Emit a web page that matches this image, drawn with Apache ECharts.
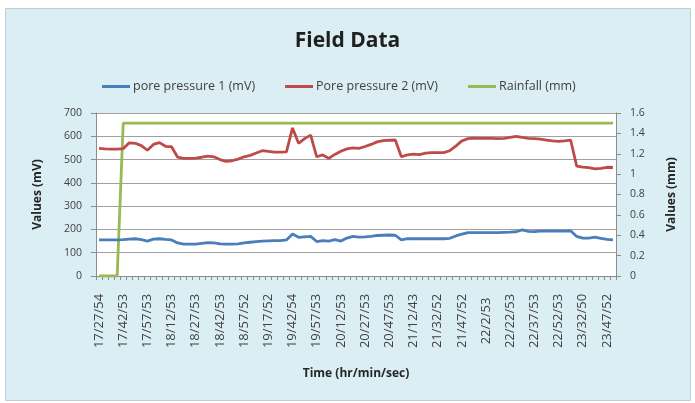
<!DOCTYPE html>
<html>
<head>
<meta charset="utf-8">
<script src="https://cdn.jsdelivr.net/npm/echarts@6/dist/echarts.min.js"></script>
<style>
html,body{margin:0;padding:0;background:#ffffff;}
#chart{width:695px;height:403px;}
</style>
</head>
<body>
<div id="chart"></div>
<script>
const categories = [
 "17/27/54","17/31/39","17/35/24","17/39/8","17/42/53","17/46/38","17/50/23","17/54/8",
 "17/57/53","18/1/38","18/5/23","18/9/8","18/12/53","18/16/38","18/20/23","18/24/8",
 "18/27/53","18/31/38","18/35/23","18/39/8","18/42/53","18/46/38","18/50/23","18/54/8",
 "18/57/52","19/2/52","19/7/52","19/12/52","19/17/52","19/23/52","19/30/53","19/36/53",
 "19/42/54","19/46/39","19/50/23","19/54/8","19/57/53","20/1/38","20/5/23","20/9/8",
 "20/12/53","20/16/38","20/20/23","20/24/8","20/27/53","20/32/53","20/37/53","20/42/53",
 "20/47/53","20/53/53","20/59/53","21/6/43","21/12/43","21/17/45","21/22/47","21/27/50",
 "21/32/52","21/36/37","21/40/22","21/44/7","21/47/52","21/51/37","21/55/22","21/59/8",
 "22/2/53","22/7/53","22/12/53","22/17/53","22/22/53","22/26/38","22/30/23","22/34/8",
 "22/37/53","22/41/38","22/45/23","22/49/8","22/52/53","23/2/52","23/12/52","23/22/51",
 "23/32/50","23/36/35","23/40/20","23/44/6","23/47/52","23/51/37"
];
const porePressure1 = [
 155,155,155,155,156,158,160,156,150,158,160,157,155,142,137,137,
 137,140,143,142,138,137,137,138,142,145,148,150,151,152,152,155,
 180,166,168,170,148,152,150,156,150,163,170,167,168,170,174,175,
 176,175,155,160,160,160,160,160,160,160,162,172,180,186,186,186,
 186,186,186,187,188,190,198,192,191,193,193,193,193,193,194,170,
 163,163,167,162,157,155
];
const porePressure2 = [
 548,546,545,545,547,572,570,560,540,565,573,557,555,510,505,505,
 506,510,515,512,500,492,495,502,512,518,528,538,535,532,532,533,
 636,570,590,605,512,520,505,522,536,546,550,548,556,565,576,581,
 583,584,512,520,523,521,528,530,530,530,538,558,580,590,592,591,
 591,591,590,591,595,600,595,591,590,588,584,580,578,580,584,472,
 468,465,460,462,467,466
];
const rainfall = [
 0,0,0,0,1.5,1.5,1.5,1.5,1.5,1.5,1.5,1.5,1.5,1.5,1.5,1.5,
 1.5,1.5,1.5,1.5,1.5,1.5,1.5,1.5,1.5,1.5,1.5,1.5,1.5,1.5,1.5,1.5,
 1.5,1.5,1.5,1.5,1.5,1.5,1.5,1.5,1.5,1.5,1.5,1.5,1.5,1.5,1.5,1.5,
 1.5,1.5,1.5,1.5,1.5,1.5,1.5,1.5,1.5,1.5,1.5,1.5,1.5,1.5,1.5,1.5,
 1.5,1.5,1.5,1.5,1.5,1.5,1.5,1.5,1.5,1.5,1.5,1.5,1.5,1.5,1.5,1.5,
 1.5,1.5,1.5,1.5,1.5,1.5
];
const seriesNames = ["pore pressure 1 (mV)","Pore pressure 2 (mV)","Rainfall (mm)"];
const seriesColors = ["#4a7ebb","#be4b48","#98b954"];

const FONT = "'Open Sans', 'Liberation Sans', sans-serif";
const chart = echarts.init(document.getElementById('chart'), null, {renderer:'canvas'});
chart.setOption({
  animation:false,
  backgroundColor:'#ffffff',
  graphic:[{
    type:'rect', z:-10, silent:true,
    shape:{x:5.5,y:8.5,width:685,height:392},
    style:{fill:'#dbeef4',stroke:'#b9d0d8',lineWidth:1}
  },{
    type:'rect', z:-9, silent:true,
    shape:{x:96,y:113,width:520,height:163},
    style:{fill:'#ffffff'}
  }],
  title:{
    text:'Field Data', left:'center', top:26,
    textStyle:{fontFamily:FONT,fontWeight:'bold',fontSize:21,color:'#1f1f1f'}
  },
  legend:{
    left:97, top:75, itemWidth:28, itemHeight:3, itemGap:30, icon:'rect',
    textStyle:{fontFamily:FONT,fontSize:12.5,color:'#404040',padding:[0,0,0,-2]},
    data:seriesNames
  },
  grid:{left:96,right:79,top:113,bottom:127,containLabel:false},
  xAxis:{
    type:'category', data:categories, boundaryGap:true,
    name:'Time (hr/min/sec)', nameLocation:'middle', nameGap:92,
    nameTextStyle:{fontFamily:FONT,fontWeight:'bold',fontSize:12,color:'#262626'},
    axisLine:{lineStyle:{color:'#8c8c8c',width:1}},
    axisTick:{show:true,interval:0,length:4,lineStyle:{color:'#8c8c8c'}},
    axisLabel:{interval:3,rotate:90,align:'center',margin:45,
      fontFamily:FONT,fontSize:13,color:'#404040'},
    splitLine:{show:false}
  },
  yAxis:[{
    type:'value', min:0, max:700, interval:100, position:'left',
    name:'Values (mV)', nameLocation:'middle', nameGap:52,
    nameTextStyle:{fontFamily:FONT,fontWeight:'bold',fontSize:12,color:'#262626'},
    axisLine:{show:true,lineStyle:{color:'#8c8c8c'}},
    axisTick:{show:true,length:5,lineStyle:{color:'#8c8c8c'}},
    axisLabel:{margin:14,fontFamily:FONT,fontSize:10.5,color:'#404040'},
    splitLine:{show:true,lineStyle:{color:'#a0a0a0',width:1}}
  },{
    type:'value', min:0, max:1.6, interval:0.2, position:'right',
    name:'Values (mm)', nameLocation:'middle', nameGap:50,
    nameTextStyle:{fontFamily:FONT,fontWeight:'bold',fontSize:12,color:'#262626'},
    axisLine:{show:true,lineStyle:{color:'#8c8c8c'}},
    axisTick:{show:true,length:5,lineStyle:{color:'#8c8c8c'}},
    axisLabel:{margin:14,fontFamily:FONT,fontSize:10.5,color:'#404040'},
    splitLine:{show:false}
  }],
  series:[{
    name:seriesNames[0], type:'line', yAxisIndex:0, data:porePressure1,
    showSymbol:false, symbol:'none', color:seriesColors[0],
    lineStyle:{width:2.8,color:seriesColors[0]}, z:3
  },{
    name:seriesNames[1], type:'line', yAxisIndex:0, data:porePressure2,
    showSymbol:false, symbol:'none', color:seriesColors[1],
    lineStyle:{width:2.8,color:seriesColors[1]}, z:3
  },{
    name:seriesNames[2], type:'line', yAxisIndex:1, data:rainfall,
    showSymbol:false, symbol:'none', color:seriesColors[2],
    lineStyle:{width:2.8,color:seriesColors[2]}, z:2
  }]
});
</script>
</body>
</html>
